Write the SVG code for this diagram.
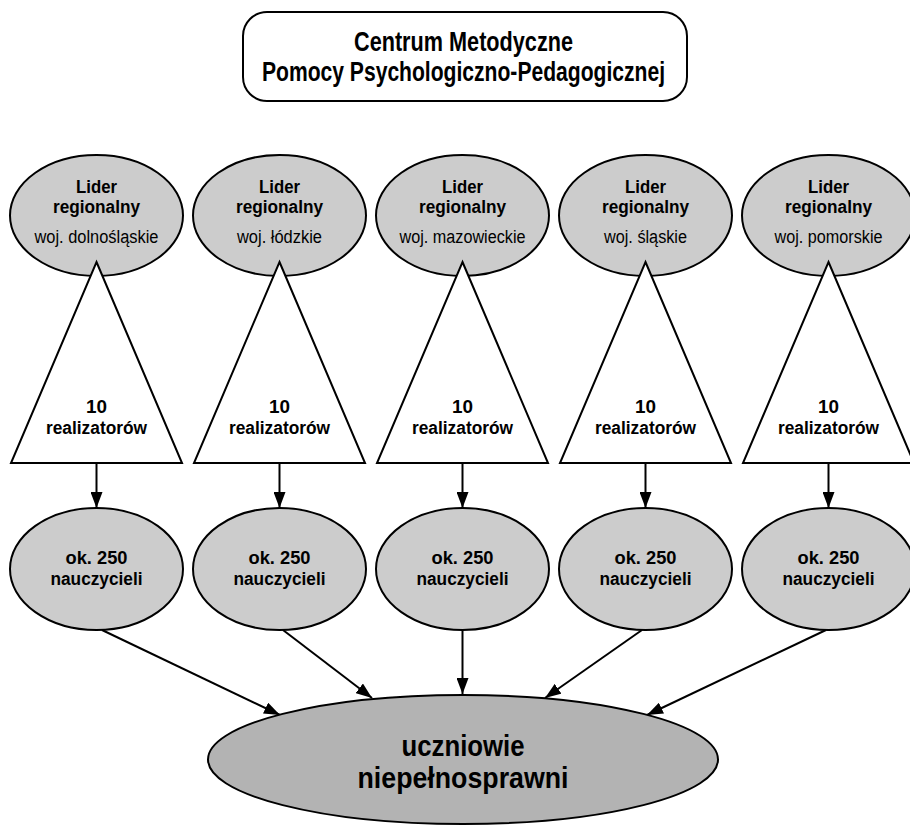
<svg xmlns="http://www.w3.org/2000/svg" width="910" height="826" viewBox="0 0 910 826">
<defs>
<style>
text{font-family:"Liberation Sans Narrow","Liberation Sans",Arial,sans-serif;text-anchor:middle;fill:#000}
.t{font-size:27px;font-weight:bold}
.l{font-size:18px;font-weight:bold}
.w{font-size:18px;font-weight:normal}
.big{font-size:29px;font-weight:bold}
.e1{fill:#cccccc;stroke:#000;stroke-width:2}
.e2{fill:#b3b3b3;stroke:#000;stroke-width:2}
.tri{fill:#fff;stroke:#000;stroke-width:2;stroke-linejoin:miter}
.box{fill:#fff;stroke:#000;stroke-width:2}
.c{stroke:#000;stroke-width:2;fill:none;marker-end:url(#ah)}
</style>
<marker id="ah" markerUnits="userSpaceOnUse" markerWidth="16" markerHeight="12" refX="16" refY="6" orient="auto">
<path d="M0,0 L16,6 L0,12 z" fill="#000"/>
</marker>
</defs>

<g id="centrum">
<rect class="box" x="243" y="12" width="444" height="89" rx="24" ry="24"/>
<text class="t" x="463.5" y="51" textLength="219" lengthAdjust="spacingAndGlyphs">Centrum Metodyczne</text>
<text class="t" x="463.5" y="81" textLength="403" lengthAdjust="spacingAndGlyphs">Pomocy Psychologiczno-Pedagogicznej</text>
</g>

<g id="connectors">
<line class="c" x1="96.5" y1="463" x2="96.5" y2="508"/>
<line class="c" x1="279.5" y1="463" x2="279.5" y2="508"/>
<line class="c" x1="462.5" y1="463" x2="462.5" y2="508"/>
<line class="c" x1="645.5" y1="463" x2="645.5" y2="508"/>
<line class="c" x1="828.5" y1="463" x2="828.5" y2="508"/>
<line class="c" x1="102" y1="630" x2="280" y2="715"/>
<line class="c" x1="283" y1="630" x2="372" y2="698"/>
<line class="c" x1="462.5" y1="630" x2="462.5" y2="694"/>
<line class="c" x1="642" y1="630" x2="545" y2="698"/>
<line class="c" x1="826" y1="630" x2="647" y2="715"/>
</g>

<g id="lider-dolnoslaskie">
<ellipse class="e1" cx="96.5" cy="215.5" rx="86.5" ry="60.5"/>
<text class="l" x="96.5" y="193" textLength="41" lengthAdjust="spacingAndGlyphs">Lider</text>
<text class="l" x="96.5" y="213" textLength="87" lengthAdjust="spacingAndGlyphs">regionalny</text>
<text class="w" x="96.5" y="243" textLength="124" lengthAdjust="spacingAndGlyphs">woj. dolnośląskie</text>
</g>
<g id="lider-lodzkie">
<ellipse class="e1" cx="279.5" cy="215.5" rx="86.5" ry="60.5"/>
<text class="l" x="279.5" y="193" textLength="41" lengthAdjust="spacingAndGlyphs">Lider</text>
<text class="l" x="279.5" y="213" textLength="87" lengthAdjust="spacingAndGlyphs">regionalny</text>
<text class="w" x="279.5" y="243" textLength="85" lengthAdjust="spacingAndGlyphs">woj. łódzkie</text>
</g>
<g id="lider-mazowieckie">
<ellipse class="e1" cx="462.5" cy="215.5" rx="86.5" ry="60.5"/>
<text class="l" x="462.5" y="193" textLength="41" lengthAdjust="spacingAndGlyphs">Lider</text>
<text class="l" x="462.5" y="213" textLength="87" lengthAdjust="spacingAndGlyphs">regionalny</text>
<text class="w" x="462.5" y="243" textLength="126" lengthAdjust="spacingAndGlyphs">woj. mazowieckie</text>
</g>
<g id="lider-slaskie">
<ellipse class="e1" cx="645.5" cy="215.5" rx="86.5" ry="60.5"/>
<text class="l" x="645.5" y="193" textLength="41" lengthAdjust="spacingAndGlyphs">Lider</text>
<text class="l" x="645.5" y="213" textLength="87" lengthAdjust="spacingAndGlyphs">regionalny</text>
<text class="w" x="645.5" y="243" textLength="83" lengthAdjust="spacingAndGlyphs">woj. śląskie</text>
</g>
<g id="lider-pomorskie">
<ellipse class="e1" cx="828.5" cy="215.5" rx="86.5" ry="60.5"/>
<text class="l" x="828.5" y="193" textLength="41" lengthAdjust="spacingAndGlyphs">Lider</text>
<text class="l" x="828.5" y="213" textLength="87" lengthAdjust="spacingAndGlyphs">regionalny</text>
<text class="w" x="828.5" y="243" textLength="108" lengthAdjust="spacingAndGlyphs">woj. pomorskie</text>
</g>

<g id="realizatorzy-1">
<polygon class="tri" points="96.5,262 182,463 11,463"/>
<text class="l" x="96.5" y="413" textLength="21" lengthAdjust="spacingAndGlyphs">10</text>
<text class="l" x="96.5" y="434" textLength="101" lengthAdjust="spacingAndGlyphs">realizatorów</text>
</g>
<g id="realizatorzy-2">
<polygon class="tri" points="279.5,262 365,463 194,463"/>
<text class="l" x="279.5" y="413" textLength="21" lengthAdjust="spacingAndGlyphs">10</text>
<text class="l" x="279.5" y="434" textLength="101" lengthAdjust="spacingAndGlyphs">realizatorów</text>
</g>
<g id="realizatorzy-3">
<polygon class="tri" points="462.5,262 548,463 377,463"/>
<text class="l" x="462.5" y="413" textLength="21" lengthAdjust="spacingAndGlyphs">10</text>
<text class="l" x="462.5" y="434" textLength="101" lengthAdjust="spacingAndGlyphs">realizatorów</text>
</g>
<g id="realizatorzy-4">
<polygon class="tri" points="645.5,262 731,463 560,463"/>
<text class="l" x="645.5" y="413" textLength="21" lengthAdjust="spacingAndGlyphs">10</text>
<text class="l" x="645.5" y="434" textLength="101" lengthAdjust="spacingAndGlyphs">realizatorów</text>
</g>
<g id="realizatorzy-5">
<polygon class="tri" points="828.5,262 914,463 743,463"/>
<text class="l" x="828.5" y="413" textLength="21" lengthAdjust="spacingAndGlyphs">10</text>
<text class="l" x="828.5" y="434" textLength="101" lengthAdjust="spacingAndGlyphs">realizatorów</text>
</g>

<g id="nauczyciele-1">
<ellipse class="e1" cx="96.5" cy="569" rx="86.5" ry="61"/>
<text class="l" x="96.5" y="564" textLength="62" lengthAdjust="spacingAndGlyphs">ok. 250</text>
<text class="l" x="96.5" y="585" textLength="92" lengthAdjust="spacingAndGlyphs">nauczycieli</text>
</g>
<g id="nauczyciele-2">
<ellipse class="e1" cx="279.5" cy="569" rx="86.5" ry="61"/>
<text class="l" x="279.5" y="564" textLength="62" lengthAdjust="spacingAndGlyphs">ok. 250</text>
<text class="l" x="279.5" y="585" textLength="92" lengthAdjust="spacingAndGlyphs">nauczycieli</text>
</g>
<g id="nauczyciele-3">
<ellipse class="e1" cx="462.5" cy="569" rx="86.5" ry="61"/>
<text class="l" x="462.5" y="564" textLength="62" lengthAdjust="spacingAndGlyphs">ok. 250</text>
<text class="l" x="462.5" y="585" textLength="92" lengthAdjust="spacingAndGlyphs">nauczycieli</text>
</g>
<g id="nauczyciele-4">
<ellipse class="e1" cx="645.5" cy="569" rx="86.5" ry="61"/>
<text class="l" x="645.5" y="564" textLength="62" lengthAdjust="spacingAndGlyphs">ok. 250</text>
<text class="l" x="645.5" y="585" textLength="92" lengthAdjust="spacingAndGlyphs">nauczycieli</text>
</g>
<g id="nauczyciele-5">
<ellipse class="e1" cx="828.5" cy="569" rx="86.5" ry="61"/>
<text class="l" x="828.5" y="564" textLength="62" lengthAdjust="spacingAndGlyphs">ok. 250</text>
<text class="l" x="828.5" y="585" textLength="92" lengthAdjust="spacingAndGlyphs">nauczycieli</text>
</g>

<g id="uczniowie">
<ellipse class="e2" cx="463" cy="759.5" rx="255" ry="64.5"/>
<text class="big" x="463" y="755.5" textLength="123" lengthAdjust="spacingAndGlyphs">uczniowie</text>
<text class="big" x="463" y="788" textLength="211" lengthAdjust="spacingAndGlyphs">niepełnosprawni</text>
</g>
</svg>
